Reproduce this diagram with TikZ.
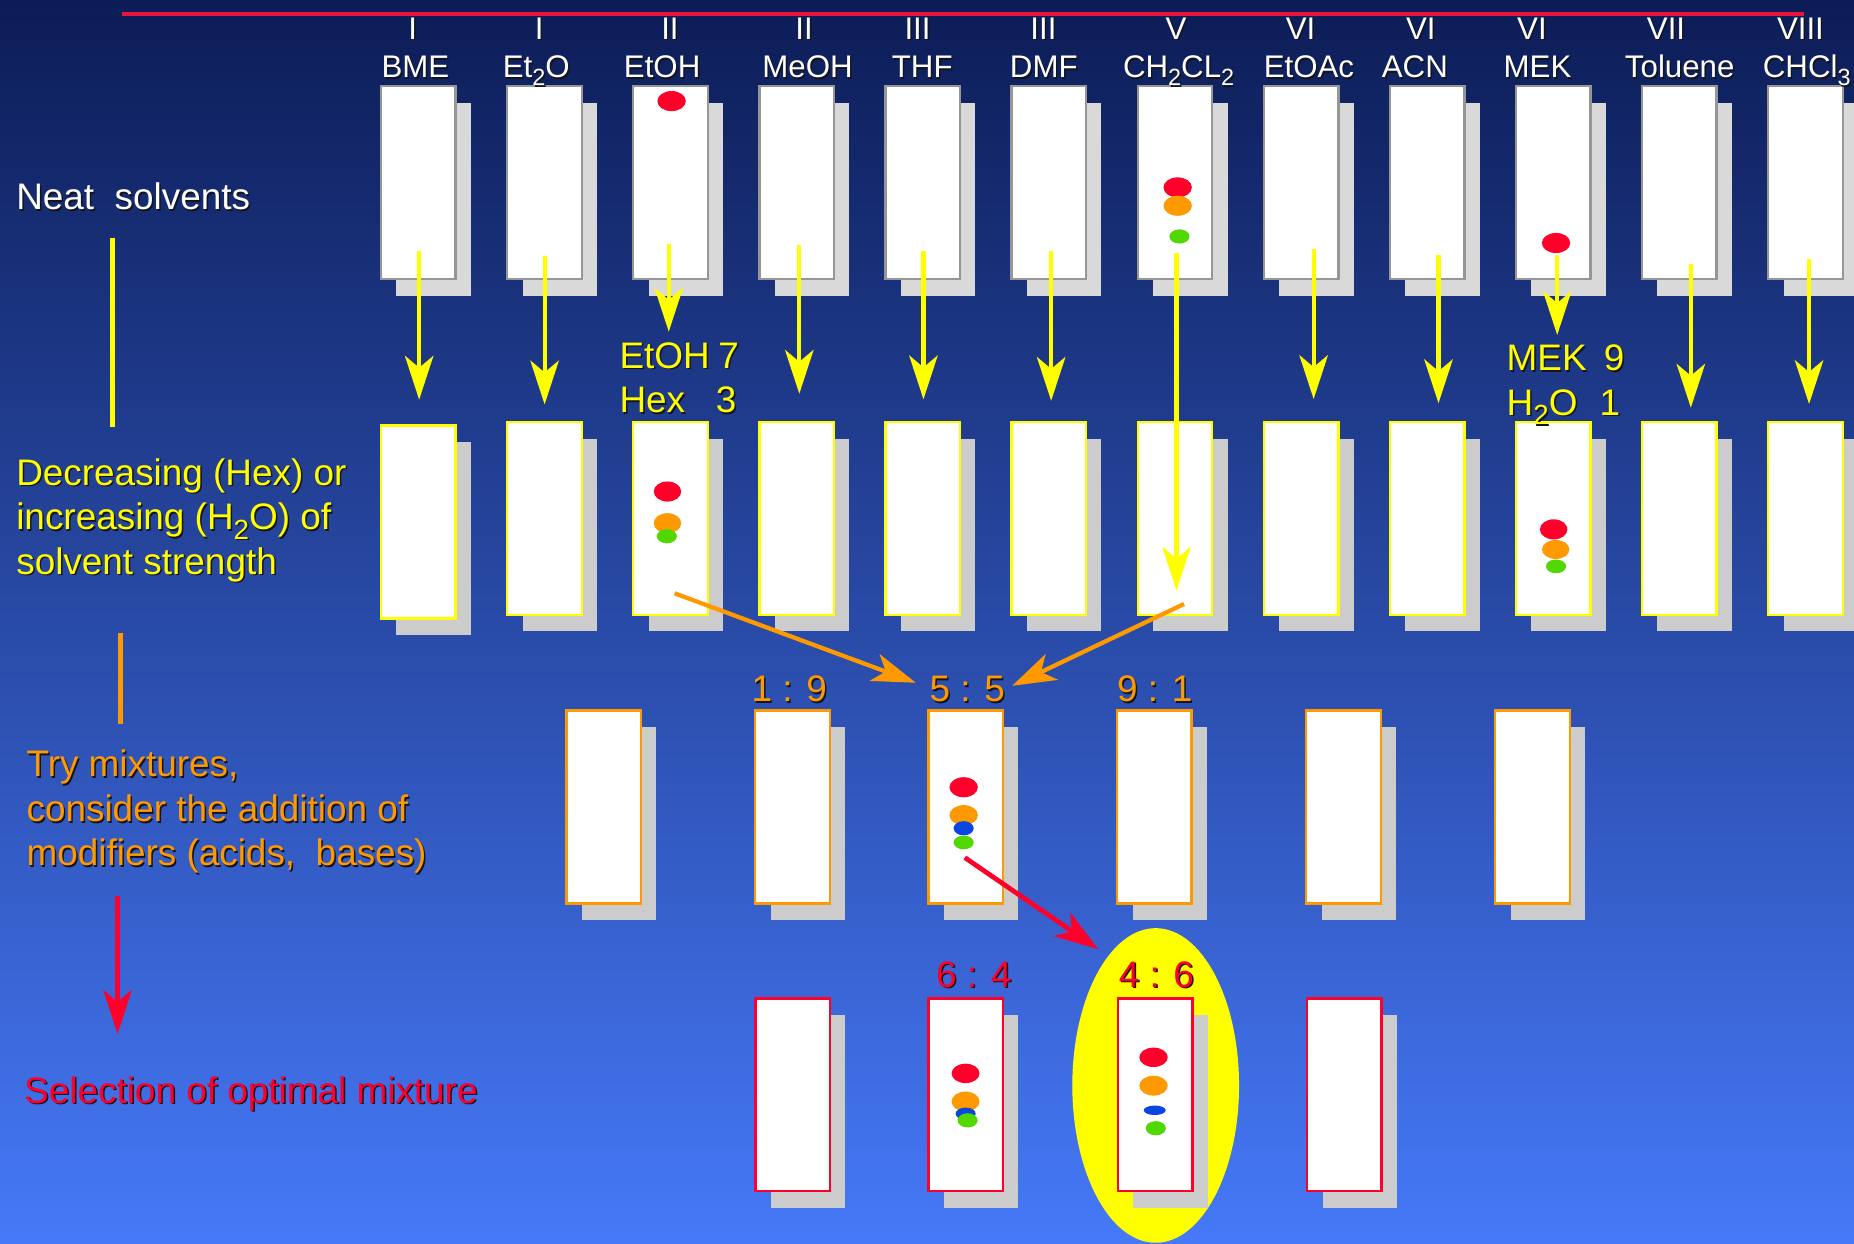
\documentclass[tikz,border=0pt]{standalone}
\usepackage{fontspec}
\setmainfont{Liberation Sans}
\usepackage{graphicx}
\usetikzlibrary{arrows.meta,shadows}
\definecolor{bgtop}{RGB}{12,28,86}
\definecolor{bgmid}{RGB}{40,76,170}
\definecolor{bgbot}{RGB}{70,121,248}
\definecolor{spotred}{RGB}{255,0,42}
\definecolor{spotorange}{RGB}{255,153,0}
\definecolor{spotgreen}{RGB}{80,216,0}
\definecolor{spotblue}{RGB}{10,70,224}
\definecolor{hlyellow}{RGB}{255,255,0}
\definecolor{boxgray}{RGB}{150,150,150}
\definecolor{shadeA}{RGB}{217,217,217}
\definecolor{shadeB}{RGB}{204,204,204}
\definecolor{rulered}{RGB}{232,20,60}
\definecolor{txtshadow}{RGB}{20,20,30}
\newcommand{\sbt}[1]{\raisebox{-0.26em}{\scalebox{0.75}{#1}}}
\newcommand{\shd}[1]{\makebox[0pt][l]{\hspace{0.9pt}\raisebox{-0.9pt}{\textcolor{txtshadow}{#1}}}#1}
\begin{document}
\begin{tikzpicture}[x=0.025cm, y=-0.025cm,
  plate/.style={rectangle, fill=white, minimum width=1.575cm, minimum height=4.075cm, inner sep=0pt, line width=0.05cm},
  shadowA/.style={drop shadow={shadow xshift=0.325cm, shadow yshift=-0.35cm, fill=shadeA, opacity=1}},
  shadowB/.style={drop shadow={shadow xshift=0.325cm, shadow yshift=-0.35cm, fill=shadeB, opacity=1}},
  neatplate/.style={plate, draw=boxgray, shadowA},
  gradplate/.style={plate, draw=hlyellow, shadowB},
  mixplate/.style={plate, draw=spotorange, shadowB},
  bestplate/.style={plate, draw=spotred, shadowB},
  head/.style={font=\fontsize{18.8pt}{22pt}\selectfont, text=white, inner sep=0pt, anchor=base},
  lbl/.style={font=\fontsize{22.2pt}{26pt}\selectfont, inner sep=0pt},
  pairlbl/.style={font=\fontsize{22.2pt}{26.7pt}\selectfont, inner sep=0pt, text=hlyellow, anchor=base west},
  bighead/.style={-{Stealth[length=0.925cm, width=0.6cm, inset=0.25cm]}},
  yarrow/.style={bighead, draw=hlyellow, line width=0.0875cm},
  oarrow/.style={bighead, draw=spotorange, line width=0.09cm},
  rarrow/.style={bighead, draw=spotred, line width=0.1cm},
]
\clip (0,0) rectangle (1568,1052);
\shade[top color=bgtop, middle color=bgmid, bottom color=bgbot] (0,0) rectangle (1568,1052);
\draw[rulered, line width=0.075cm] (103,12) -- (1526,12);

% highlight ellipse behind the best plate
\fill[hlyellow] (977.4,918) ellipse [x radius=1.7625cm, y radius=3.325cm];

% row 1: neat solvents
\foreach \i/\cx in {1/353.8,2/460.45,3/567.1,4/673.75,5/780.4,6/887.05,7/993.7,8/1100.35,9/1207,10/1313.65,11/1420.3,12/1526.95}
  \node[neatplate] (n\i) at (\cx,154.4) {};
% row 2
\foreach \i/\cx/\cy in {1/353.8/441.5,2/460.45/438.5,3/567.1/438.5,4/673.75/438.5,5/780.4/438.5,6/887.05/438.5,7/993.7/438.5,8/1100.35/438.5,9/1207/438.5,10/1313.65/438.5,11/1420.3/438.5,12/1526.95/438.5}
  \node[gradplate] (g\i) at (\cx,\cy) {};
% row 3
\foreach \i/\cx in {1/510.5,2/670.2,3/816.8,4/976.3,5/1136.2,6/1296.1}
  \node[mixplate] (m\i) at (\cx,682.5) {};
% row 4
\foreach \i/\cx in {1/670.5,2/816.8,3/976.9,4/1137}
  \node[bestplate] (b\i) at (\cx,926) {};

% spots
\fill[spotred] (568,85.5) ellipse [x radius=0.3cm, y radius=0.2125cm];
\fill[spotred] (996,158.5) ellipse [x radius=0.3cm, y radius=0.2125cm];
\fill[spotorange] (996,174) ellipse [x radius=0.3cm, y radius=0.2125cm];
\fill[spotgreen] (997.5,200) ellipse [x radius=0.2125cm, y radius=0.15cm];
\fill[spotred] (1316,205.5) ellipse [x radius=0.3cm, y radius=0.2125cm];

\fill[spotred] (564.5,415.7) ellipse [x radius=0.29cm, y radius=0.2125cm];
\fill[spotorange] (564.5,442.5) ellipse [x radius=0.29cm, y radius=0.2125cm];
\fill[spotgreen] (564,453.5) ellipse [x radius=0.2125cm, y radius=0.15cm];
\fill[spotred] (1314,447.7) ellipse [x radius=0.29cm, y radius=0.2125cm];
\fill[spotorange] (1315.7,464.7) ellipse [x radius=0.29cm, y radius=0.2cm];
\fill[spotgreen] (1316,479) ellipse [x radius=0.2125cm, y radius=0.145cm];

\fill[spotred] (815,665.8) ellipse [x radius=0.3cm, y radius=0.2125cm];
\fill[spotorange] (815,689.4) ellipse [x radius=0.3cm, y radius=0.2125cm];
\fill[spotblue] (815,700.5) ellipse [x radius=0.2125cm, y radius=0.15cm];
\fill[spotgreen] (815,712.5) ellipse [x radius=0.2125cm, y radius=0.145cm];

\fill[spotred] (816.6,907.8) ellipse [x radius=0.295cm, y radius=0.205cm];
\fill[spotorange] (816.6,931.6) ellipse [x radius=0.295cm, y radius=0.21cm];
\fill[spotblue] (816.7,941.9) ellipse [x radius=0.2125cm, y radius=0.13cm];
\fill[spotgreen] (818.3,947.5) ellipse [x radius=0.2125cm, y radius=0.15cm];

\fill[spotred] (975.6,894.2) ellipse [x radius=0.3cm, y radius=0.205cm];
\fill[spotorange] (975.6,918.2) ellipse [x radius=0.3cm, y radius=0.21cm];
\fill[spotblue] (976.6,939) ellipse [x radius=0.2325cm, y radius=0.1cm];
\fill[spotgreen] (977.5,954.2) ellipse [x radius=0.2125cm, y radius=0.15cm];

% column headings
\foreach \rx/\rn/\nx/\nm [count=\i] in {349/I/351.3/BME, 456/I/453.6/Et\sbt{2}O, 566.6/II/560/EtOH, 680/II/683/MeOH, 776/III/780/THF, 882.5/III/882.8/DMF, 994.6/V/996.8/CH\sbt{2}CL\sbt{2}, 1100/VI/1107/EtOAc, 1201.6/VI/1196.6/ACN, 1295.6/VI/1300.3/MEK, 1409/VII/1420.6/Toluene, 1522.7/VIII/1528/CHCl\sbt{3}}
{
  \node[head] (cls\i) at (\rx,33) {\shd{\rn}};
  \node[head] (nm\i) at (\nx,65.7) {\shd{\nm}};
}

% mixture labels (two-line blocks)
\node[pairlbl] (mixEH) at (523.7,311.5)
  {\begin{tabular}[t]{@{}l@{}}\shd{\makebox[2.5225cm][s]{EtOH\hfill 7}}\\\shd{\makebox[2.4725cm][s]{Hex\hfill 3}}\end{tabular}};
\node[pairlbl] (mixMW) at (1274,313.5)
  {\begin{tabular}[t]{@{}l@{}}\shd{\makebox[2.4875cm][s]{MEK\hfill 9}}\\\shd{\makebox[2.4cm][s]{H\sbt{2}O\hfill 1}}\end{tabular}};

% ratio labels
\node[lbl, text=spotorange, anchor=base] (r19) at (667.5,593.4) {\shd{1 : 9}};
\node[lbl, text=spotorange, anchor=base] (r55) at (818,593.4) {\shd{5 : 5}};
\node[lbl, text=spotorange, anchor=base] (r91) at (976.7,593.4) {\shd{9 : 1}};
\node[lbl, text=spotred, anchor=base] (r64) at (823.6,834.8) {\shd{6 : 4}};
\node[lbl, text=spotred, anchor=base] (r46) at (978,834.8) {\shd{4 : 6}};

% left-hand captions
\node[lbl, text=white, anchor=base west] (neat) at (13.5,177.6) {\shd{Neat\ \ solvents}};
\node[lbl, text=hlyellow, anchor=base west] (dec1) at (13.5,410.5) {\shd{Decreasing (Hex) or}};
\node[lbl, text=hlyellow, anchor=base west] (dec2) at (13.5,448) {\shd{increasing (H\sbt{2}O) of}};
\node[lbl, text=hlyellow, anchor=base west] (dec3) at (13.5,485.5) {\shd{solvent strength}};
\node[lbl, text=spotorange, anchor=base west] (try1) at (22.2,657) {\shd{Try mixtures,}};
\node[lbl, text=spotorange, anchor=base west] (try2) at (22.2,695) {\shd{consider the addition of}};
\node[lbl, text=spotorange, anchor=base west] (try3) at (22.2,732.3) {\shd{modifiers (acids,\ \ bases)}};
\node[lbl, text=spotred, anchor=base west] (sel) at (20.2,933) {\shd{Selection of optimal mixture}};

% left-hand step markers
\coordinate (ly1) at (95,201);
\coordinate (ly2) at (95,361);
\draw[hlyellow, line width=0.11cm] (ly1) -- (ly2);
\coordinate (lo1) at (102.3,535);
\coordinate (lo2) at (102.3,612);
\draw[spotorange, line width=0.105cm] (lo1) -- (lo2);
\coordinate (lr1) at (99.4,758);
\coordinate (lr2) at (99.4,874.4);
\draw[rarrow, line width=0.09cm] (lr1) -- (lr2);

% yellow arrows from neat solvents
\foreach \i/\ax/\ya/\yb in {1/354.5/212/338, 2/460.6/216.5/342, 3/565.6/206/280.5, 4/676/207.5/333, 5/781/212.6/337.7, 6/889/212.6/339, 7/995/214/499.5, 8/1111/210.8/337.5, 9/1216.6/216/341, 10/1317/216/283.3, 11/1430/223/344.8, 12/1530/219/341.7}
{
  \coordinate (ys\i) at (\ax,\ya);
  \coordinate (ye\i) at (\ax,\yb);
  \draw[yarrow] (ys\i) -- (ye\i);
}

% orange arrows to 5:5
\coordinate (oa1) at (570.6,501.8);
\coordinate (oe1) at (774.5,577.4);
\coordinate (oa2) at (1001.4,510.8);
\coordinate (oe2) at (856,580);
\draw[oarrow] (oa1) -- (oe1);
\draw[oarrow] (oa2) -- (oe2);

% red arrow to 4:6
\coordinate (ra) at (816,725.3);
\coordinate (re) at (928.9,802.8);
\draw[rarrow] (ra) -- (re);
\end{tikzpicture}
\end{document}
